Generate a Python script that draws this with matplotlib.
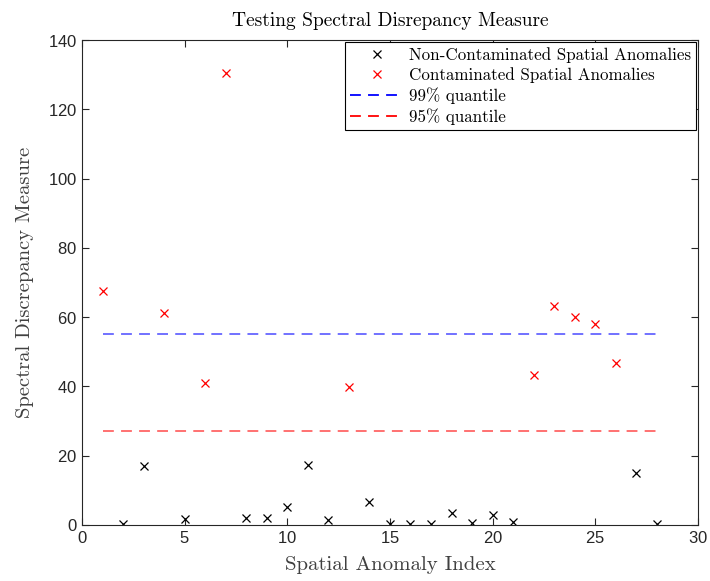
import numpy as np
import matplotlib.pyplot as plt

# data
clean_idx = [2, 3, 5, 8, 9, 10, 11, 12, 14, 15, 16, 17, 18, 19, 20, 21, 27, 28]
clean_val = [0.2, 17.1, 1.6, 2.0, 2.0, 5.2, 17.3, 1.4, 6.5, 0.3, 0.2, 0.2, 3.6, 0.7, 3.0, 0.8, 15.1, 0.4]
cont_idx = [1, 4, 6, 7, 13, 22, 23, 24, 25, 26]
cont_val = [67.5, 61.3, 40.9, 130.6, 39.7, 43.3, 63.3, 60.0, 58.1, 46.7]
q99 = 55.0
q95 = 27.2
line_x = [1, 28]

plt.rcParams['font.family'] = 'cmr10'
plt.rcParams['axes.formatter.use_mathtext'] = True

fig = plt.figure(figsize=(7.1, 5.81), dpi=100)
ax = fig.add_axes([0.1155, 0.0964, 0.8675, 0.8346])

ax.plot(clean_idx, clean_val, 'x', color='black', markersize=6, markeredgewidth=0.9,
        label='Non-Contaminated Spatial Anomalies')
ax.plot(cont_idx, cont_val, 'x', color='red', markersize=6, markeredgewidth=0.9,
        label='Contaminated Spatial Anomalies')
ax.plot(line_x, [q99, q99], '--', color='blue', alpha=0.6, linewidth=1.3, dashes=(6, 4),
        label='99% quantile')
ax.plot(line_x, [q95, q95], '--', color='red', alpha=0.6, linewidth=1.3, dashes=(6, 4),
        label='95% quantile')

ax.set_xlim(0, 30)
ax.set_ylim(0, 140)
ax.set_xticks(np.arange(0, 31, 5))
ax.set_yticks(np.arange(0, 141, 20))

for lab in ax.get_xticklabels() + ax.get_yticklabels():
    lab.set_fontfamily('Liberation Sans')
    lab.set_fontsize(12)
    lab.set_color('#262626')

ax.tick_params(direction='in', top=True, right=True, length=5, width=0.8, colors='#262626',
               labelcolor='#262626')
for s in ax.spines.values():
    s.set_color('#262626')
    s.set_linewidth(0.8)

ax.set_title('Testing Spectral Disrepancy Measure', fontsize=14, pad=10)
ax.set_xlabel('Spatial Anomaly Index', fontsize=15, color='#404040', labelpad=7)
ax.set_ylabel('Spectral Discrepancy Measure', fontsize=14.8, color='#404040', labelpad=10)

leg = ax.legend(loc='upper right', fontsize=12.2, frameon=True, fancybox=False,
                edgecolor='black', framealpha=1, borderaxespad=0.1, handlelength=3.2,
                borderpad=0.3, labelspacing=0.25, handletextpad=0.3)
leg.get_frame().set_linewidth(0.8)
for ln in leg.get_lines():
    ln.set_alpha(1)

fig.savefig('out.png', dpi=100)
